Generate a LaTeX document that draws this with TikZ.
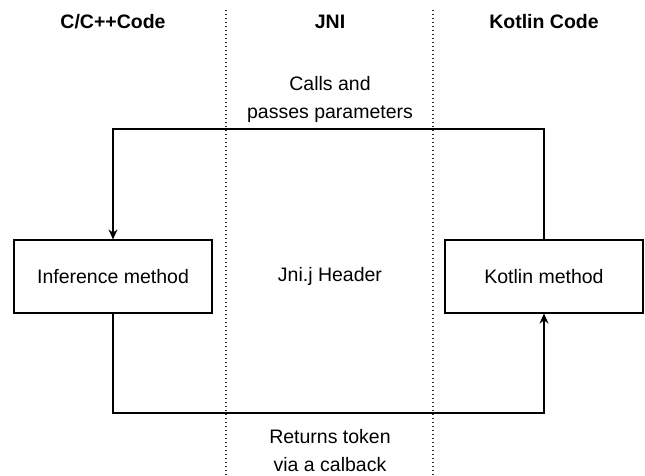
\documentclass[tikz,border=0pt]{standalone}
\usepackage{fontspec}
\setmainfont{Liberation Sans}
\usetikzlibrary{arrows.meta,positioning}
\tikzset
{
    methodbox/.style = {rectangle, draw=black, line width=1.2pt, minimum width=198pt, minimum height=73pt, align=center, font=\fontsize{19.5}{28}\selectfont},
    lanehead/.style  = {align=center, font=\fontsize{19.5}{28}\selectfont\bfseries},
    flowtext/.style  = {align=center, font=\fontsize{19.5}{28}\selectfont},
    divider/.style   = {draw=black!85, line width=1.1pt, dash pattern=on 1.2pt off 2.8pt},
    flow/.style      = {draw=black, line width=1.2pt, -{Stealth[length=10pt,width=9pt]}}
}

\begin{document}
\begin{tikzpicture}[x=1pt, y=-1pt]
\useasboundingbox (0,0) rectangle (645,476);
\node (cpp)		[lanehead] 	at (113,22)		{C/C++Code};
\node (jni)		[lanehead] 	at (330,22)		{JNI};
\node (kotlin)	[lanehead] 	at (544,22)		{Kotlin Code};
\node (infer)	[methodbox] at (113,276.5)	{Inference method};
\node (header)	[flowtext] 	at (330,276.5)	{Jni.j Header};
\node (kmethod)	[methodbox] at (544,276.5)	{Kotlin method};
\node (calls)	[flowtext] 	at (330,99)		{Calls and\\passes parameters};
\node (returns)	[flowtext] 	at (330,451)	{Returns token\\via a calback};
\coordinate (top)		at (330,129);
\coordinate (bottom)	at (330,413);

%% lanes
\draw[divider] (226,10) -- (226,476);
\draw[divider] (433,10) -- (433,476);

%% calls
\draw[flow] (kmethod.north) |- (top) -| (infer.north);
\draw[flow] (infer.south) |- (bottom) -| (kmethod.south);
\end{tikzpicture}
\end{document}
